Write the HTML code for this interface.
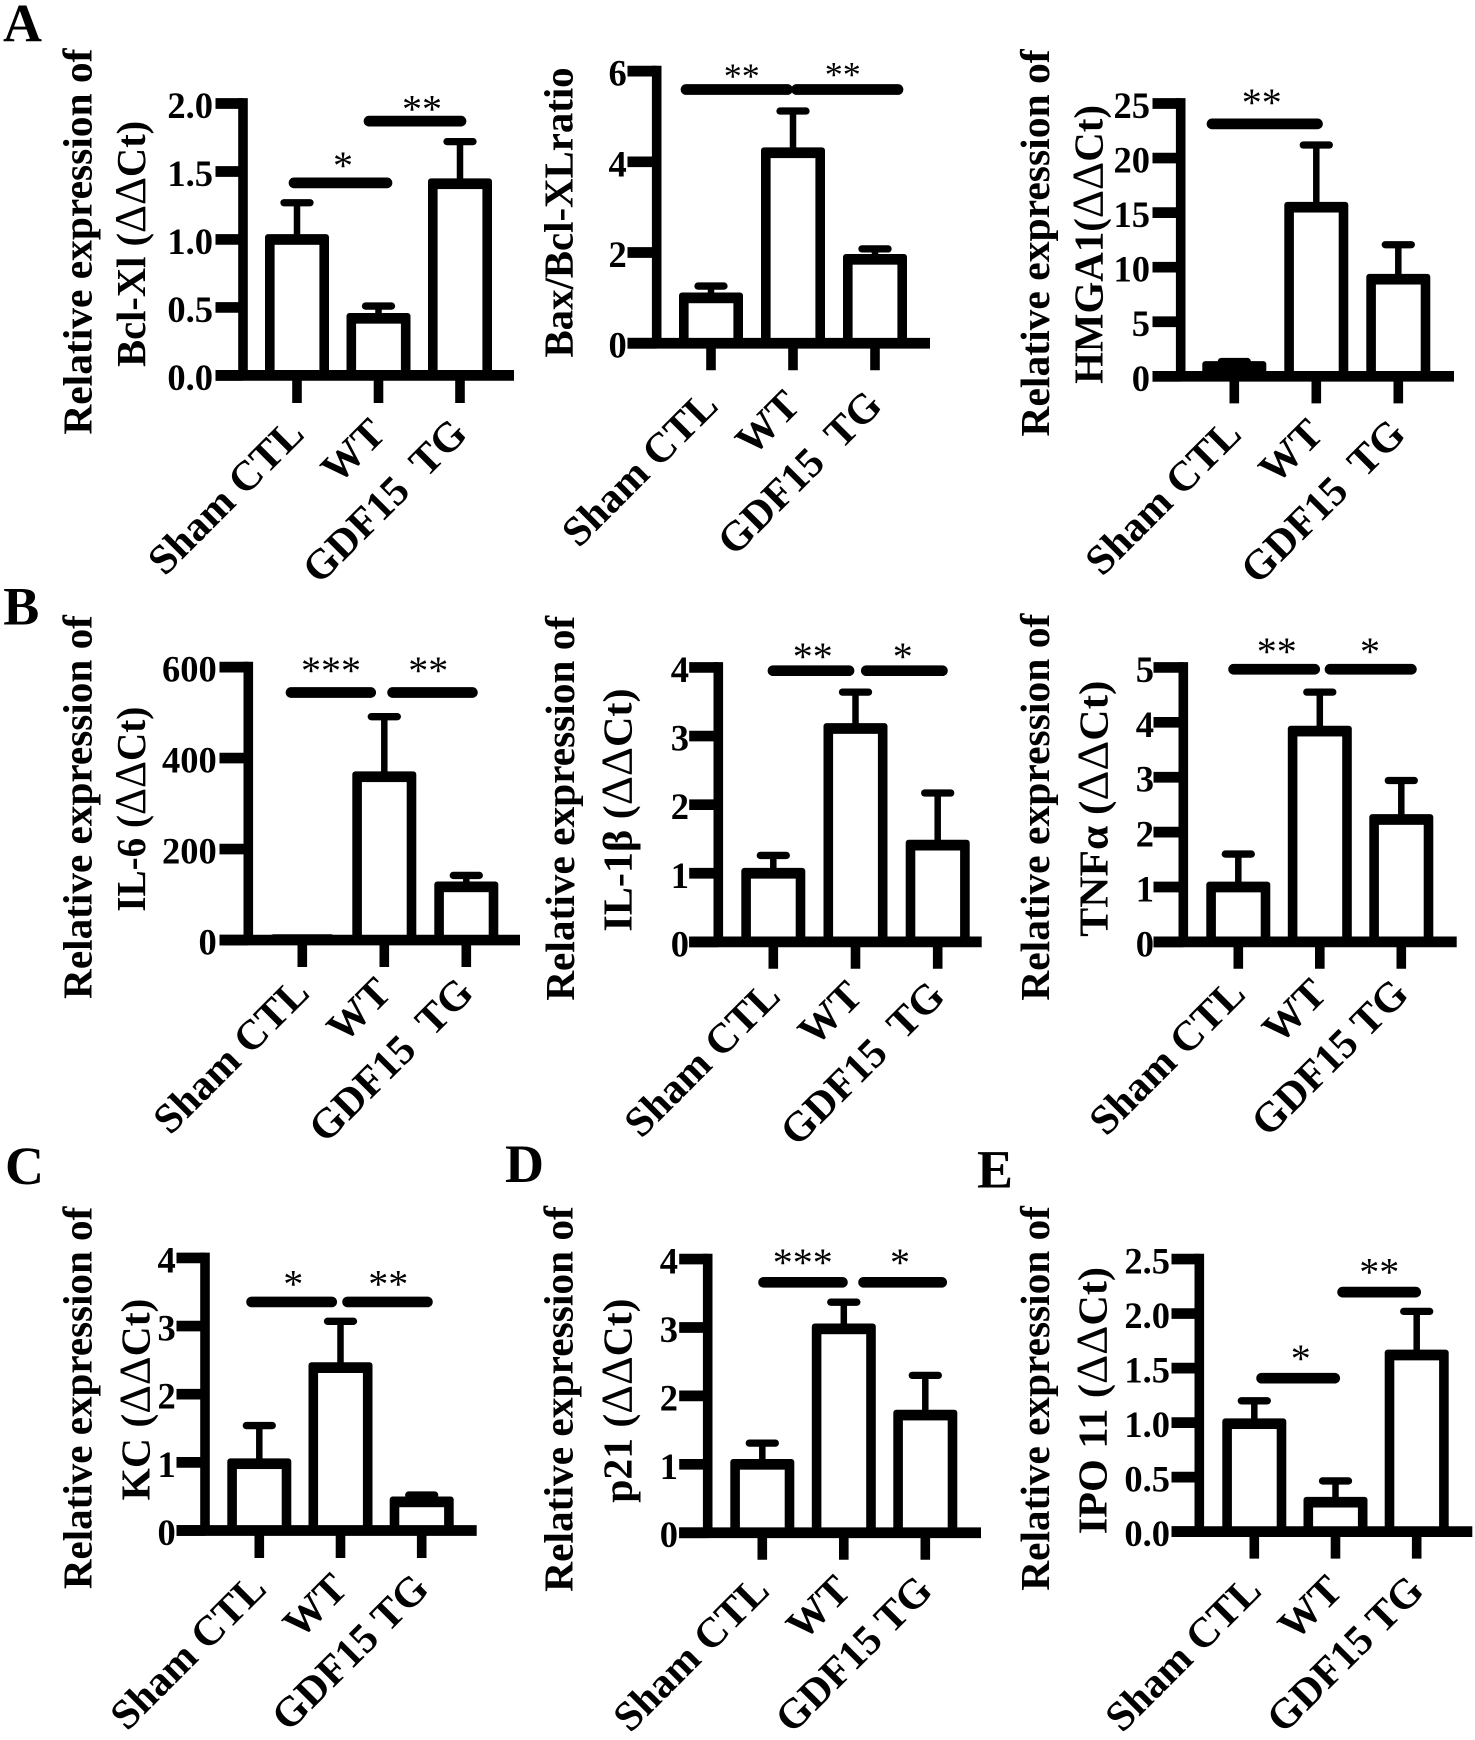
<!DOCTYPE html>
<html lang="en">
<head>
<meta charset="utf-8">
<title>Relative expression bar charts</title>
<style>
html,body{margin:0;padding:0;background:#fff;}
svg{display:block;}
text{font-family:"Liberation Serif","DejaVu Serif",serif;fill:#000;white-space:pre;}
</style>
</head>
<body>
<svg id="figure" xmlns="http://www.w3.org/2000/svg" width="1475" height="1740" viewBox="0 0 1475 1740">
<rect width="1475" height="1740" fill="#fff"/>
</svg>
<script>
// ---- categories ----
const catsWideGap = ['Sham CTL', 'WT', 'GDF15  TG'];
const catsNarrowGap = ['Sham CTL', 'WT', 'GDF15 TG'];

// ---- series values (bar mean, top of error bar) and axis ticks ----
const bclMeans = [1.0, 0.42, 1.41];
const bclErrTops = [1.27, 0.51, 1.72];
const bclTickValues = [0, 0.5, 1, 1.5, 2];
const bclTickLabels = ['0.0', '0.5', '1.0', '1.5', '2.0'];

const baxMeans = [1.0, 4.2, 1.85];
const baxErrTops = [1.26, 5.12, 2.08];
const baxTickValues = [0, 2, 4, 6];
const baxTickLabels = ['0', '2', '4', '6'];

const hmgaMeans = [0.9, 15.5, 8.9];
const hmgaErrTops = [1.35, 21.2, 12.06];
const hmgaTickValues = [0, 5, 10, 15, 20, 25];
const hmgaTickLabels = ['0', '5', '10', '15', '20', '25'];

const il6Means = [1, 359, 117];
const il6ErrTops = [1.3, 491, 142];
const il6TickValues = [0, 200, 400, 600];
const il6TickLabels = ['0', '200', '400', '600'];

const il1Means = [1.0, 3.11, 1.41];
const il1ErrTops = [1.26, 3.64, 2.17];
const il1TickValues = [0, 1, 2, 3, 4];
const il1TickLabels = ['0', '1', '2', '3', '4'];

const tnfMeans = [1.0, 3.84, 2.23];
const tnfErrTops = [1.6, 4.55, 2.94];
const tnfTickValues = [0, 1, 2, 3, 4, 5];
const tnfTickLabels = ['0', '1', '2', '3', '4', '5'];

const kcMeans = [0.98, 2.39, 0.42];
const kcErrTops = [1.54, 3.07, 0.52];
const kcTickValues = [0, 1, 2, 3, 4];
const kcTickLabels = ['0', '1', '2', '3', '4'];

const p21Means = [1.0, 2.98, 1.72];
const p21ErrTops = [1.31, 3.37, 2.3];
const p21TickValues = [0, 1, 2, 3, 4];
const p21TickLabels = ['0', '1', '2', '3', '4'];

const ipoMeans = [0.99, 0.27, 1.62];
const ipoErrTops = [1.2, 0.465, 2.02];
const ipoTickValues = [0, 0.5, 1, 1.5, 2, 2.5];
const ipoTickLabels = ['0.0', '0.5', '1.0', '1.5', '2.0', '2.5'];

// ---- panel letters ----
const panelLetters = ['A', 'B', 'C', 'D', 'E'];

// ---- vertical layout calibration for each row of panels ----
const rowOrigins = [0, 590, 1150];
const rowFactors = [1.129, 1.0905, 1.128];

// ---- panel layout (frame geometry and annotations, row-relative y) ----
const panels = [
 {id:'bcl-xl', row:0, cats:catsWideGap, means:bclMeans, errTops:bclErrTops, tickValues:bclTickValues, tickLabels:bclTickLabels,
  axisX:243, base:332.5, top:91.7, tickLeft:217, labelRight:213, right:514, x0:297, step:81.5, tickBottom:357, labelDy:29, starSize:40,
  titles:[{text:'Relative expression of', x:91.7, y:385, len:342},{text:'Bcl-Xl (ΔΔCt)', x:145, y:325, len:218}],
  sigs:[{x1:294,x2:387,y:162,stars:'*',sx:343,sy:142},{x1:369,x2:461,y:107.3,stars:'**',sx:422,sy:92}]},
 {id:'bax-ratio', row:0, cats:catsWideGap, means:baxMeans, errTops:baxErrTops, tickValues:baxTickValues, tickLabels:baxTickLabels,
  axisX:656.7, base:304, top:63, tickLeft:629, labelRight:626.7, right:930, x0:711, step:82, tickBottom:328, labelDy:33, starSize:36,
  titles:[{text:'Bax/Bcl-XLratio', x:572.7, y:316.7, len:257}],
  sigs:[{x1:686,x2:787.5,y:79.3,stars:'**',sx:741.7,sy:63},{x1:796.5,x2:898,y:79.3,stars:'**',sx:842.7,sy:61.7}]},
 {id:'hmga1', row:0, cats:catsWideGap, means:hmgaMeans, errTops:hmgaErrTops, tickValues:hmgaTickValues, tickLabels:hmgaTickLabels,
  axisX:1180.7, base:333.3, top:91.7, tickLeft:1154, labelRight:1150, right:1454, x0:1234.3, step:82, tickBottom:357.3, labelDy:29, starSize:40,
  titles:[{text:'Relative expression of', x:1049, y:386.7, len:343},{text:'HMGA1(ΔΔCt)', x:1102.7, y:340, len:247}],
  sigs:[{x1:1212,x2:1317.5,y:109.7,stars:'**',sx:1261.7,sy:86}]},
 {id:'il-6', row:1, cats:catsWideGap, means:il6Means, errTops:il6ErrTops, tickValues:il6TickValues, tickLabels:il6TickLabels,
  axisX:248.3, base:911, top:660.7, tickLeft:221, labelRight:216.7, right:520, x0:302.3, step:82, tickBottom:935.7, labelDy:25.5, starSize:40,
  titles:[{text:'Relative expression of', x:91.7, y:965, len:352},{text:'IL-6 (ΔΔCt)', x:145, y:885, len:188}],
  sigs:[{x1:291,x2:370.7,y:684,stars:'***',sx:331,sy:659},{x1:392.6,x2:472.4,y:684,stars:'**',sx:428.3,sy:659}]},
 {id:'il-1b', row:1, cats:catsWideGap, means:il1Means, errTops:il1ErrTops, tickValues:il1TickValues, tickLabels:il1TickLabels,
  axisX:718.3, base:912.7, top:661, tickLeft:690.7, labelRight:689, right:981.7, x0:773.3, step:82.2, tickBottom:937.3, labelDy:27, starSize:40,
  titles:[{text:'Relative expression of', x:574, y:966.7, len:353},{text:'IL-1β (ΔΔCt)', x:631.7, y:903.3, len:223}],
  sigs:[{x1:773,x2:849,y:664,stars:'**',sx:812.7,sy:646},{x1:866.3,x2:942.4,y:664,stars:'*',sx:902.7,sy:646}]},
 {id:'tnf-a', row:1, cats:catsNarrowGap, means:tnfMeans, errTops:tnfErrTops, tickValues:tnfTickValues, tickLabels:tnfTickLabels,
  axisX:1183.3, base:912.7, top:661, tickLeft:1155, labelRight:1154, right:1456.7, x0:1238.3, step:81.5, tickBottom:937.3, labelDy:25, starSize:40,
  titles:[{text:'Relative expression of', x:1049, y:966.7, len:355},{text:'TNFα (ΔΔCt)', x:1107.3, y:908, len:235}],
  sigs:[{x1:1233.6,x2:1314.7,y:662.7,stars:'**',sx:1276.7,sy:641.7},{x1:1330,x2:1411.4,y:662.7,stars:'*',sx:1370,sy:641.7}]},
 {id:'kc', row:2, cats:catsNarrowGap, means:kcMeans, errTops:kcErrTops, tickValues:kcTickValues, tickLabels:kcTickLabels,
  axisX:205, base:1487.3, top:1245.7, tickLeft:178, labelRight:175.7, right:476.7, x0:259.3, step:81.2, tickBottom:1511.7, labelDy:29, starSize:40,
  titles:[{text:'Relative expression of', x:91.7, y:1539.3, len:339},{text:'KC (ΔΔCt)', x:149.3, y:1460.7, len:179}],
  sigs:[{x1:251.6,x2:331.7,y:1284.7,stars:'*',sx:293.3,sy:1264.3},{x1:347.6,x2:427.4,y:1284.7,stars:'**',sx:388.3,sy:1264.3}]},
 {id:'p21', row:2, cats:catsNarrowGap, means:p21Means, errTops:p21ErrTops, tickValues:p21TickValues, tickLabels:p21TickLabels,
  axisX:707.7, base:1489.3, top:1246.7, tickLeft:680.7, labelRight:678, right:981, x0:762.3, step:81.5, tickBottom:1513.3, labelDy:29, starSize:40,
  titles:[{text:'Relative expression of', x:572.7, y:1541.7, len:342},{text:'p21 (ΔΔCt)', x:631.7, y:1462.7, len:181}],
  sigs:[{x1:763.6,x2:842.4,y:1267.3,stars:'***',sx:802.7,sy:1245},{x1:863.6,x2:941.7,y:1267.3,stars:'*',sx:900,sy:1245}]},
 {id:'ipo-11', row:2, cats:catsNarrowGap, means:ipoMeans, errTops:ipoErrTops, tickValues:ipoTickValues, tickLabels:ipoTickLabels,
  axisX:1199.3, base:1488.3, top:1246.7, tickLeft:1173, labelRight:1170, right:1472.3, x0:1254.3, step:81.2, tickBottom:1512.3, labelDy:30, starSize:40,
  titles:[{text:'Relative expression of', x:1049, y:1540.7, len:341},{text:'IPO 11 (ΔΔCt)', x:1106.7, y:1490.7, len:237}],
  sigs:[{x1:1261.6,x2:1334.7,y:1352.3,stars:'*',sx:1300.7,sy:1330},{x1:1342.6,x2:1415.7,y:1276,stars:'**',sx:1379.3,sy:1253.3}]}
];
const letterSpots = [{x:3,y:41.6},{x:3.3,y:624.6},{x:5,y:1184},{x:505,y:1182},{x:977,y:1187.5}];

// ---- style constants ----
const STROKE_H = 10.7;   // thickness of horizontal strokes
const STROKE_V = 9.6;    // thickness of vertical strokes
const BAR_OUTER_HALF = 32;
const CAP_HALF = 13;
const TITLE_SIZE = 41.5;
const TICK_SIZE = 36.5;
const CAT_SIZE = 42;

const NS = 'http://www.w3.org/2000/svg';
const root = document.getElementById('figure');

function make(parent, tag, attrs, content) {
  const node = document.createElementNS(NS, tag);
  for (const k in attrs) node.setAttribute(k, attrs[k]);
  if (content !== undefined) node.textContent = content;
  parent.appendChild(node);
  return node;
}

function drawPanel(p) {
  const g = make(root, 'g', {});
  
  

  const origin = rowOrigins[p.row];
  const factor = rowFactors[p.row];
  const rowY = y => origin + (y - origin) * factor;
  const base = rowY(p.base);
  const top = rowY(p.top);
  const tickBottom = rowY(p.tickBottom);

  const maxTick = Math.max.apply(null, p.tickValues);
  const yScale = v => base - (v / maxTick) * (base - top);
  const xScale = i => p.x0 + i * p.step;

  // y-axis titles (the delta signs are set in regular weight)
  p.titles.forEach((t, i) => {
    const title = make(g, 'text', {
      transform: 'translate(' + t.x + ',' + rowY(t.y) + ') rotate(-90)',
      'font-size': TITLE_SIZE, 'font-weight': 'bold',
      textLength: t.len * factor, lengthAdjust: 'spacingAndGlyphs'
    });
    
    
    t.text.split(/(Δ+)/).forEach(part => {
      if (part.charAt(0) === 'Δ') {
        const delta = make(title, 'tspan', {'font-weight':'normal', 'font-size':TITLE_SIZE + 3}, part);
        
        
      } else if (part) {
        title.appendChild(document.createTextNode(part));
      }
    });
  });

  // significance bars and stars
  p.sigs.forEach(s => {
    const sy = rowY(s.y);
    const sig = make(g, 'line', {x1:s.x1, x2:s.x2, y1:sy, y2:sy, stroke:'#000', 'stroke-width':STROKE_H, 'stroke-linecap':'round'});
    
    
    const star = make(g, 'text', {
      x:s.sx, y:rowY(s.sy) + 0.47 * p.starSize, 'font-size':p.starSize, 'text-anchor':'middle'
    }, s.stars);
    
    
  });

  // bars and error bars
  p.means.forEach((m, i) => {
    const cx = xScale(i);
    const errY = yScale(p.errTops[i]);
    const barY = yScale(m);
    const stem = make(g, 'line', {x1:cx, x2:cx, y1:errY, y2:barY, stroke:'#000', 'stroke-width':6.5});
    
    
    const cap = make(g, 'line', {x1:cx - CAP_HALF, x2:cx + CAP_HALF, y1:errY, y2:errY, stroke:'#000', 'stroke-width':7.3, 'stroke-linecap':'round'});
    
    
    const bar = make(g, 'rect', {
      x:cx - BAR_OUTER_HALF, y:barY - STROKE_H / 2, width:BAR_OUTER_HALF * 2,
      height:Math.max(0, base - barY + STROKE_H / 2), rx:3, fill:'#000'
    });
    
    
    const inner = make(g, 'rect', {
      x:cx - BAR_OUTER_HALF + STROKE_V, y:barY + STROKE_H / 2, width:(BAR_OUTER_HALF - STROKE_V) * 2,
      height:Math.max(0, base - barY - STROKE_H / 2), fill:'#fff'
    });
    
    
  });

  // y axis line, ticks, tick labels
  const yAxis = make(g, 'line', {x1:p.axisX, x2:p.axisX, y1:yScale(maxTick) - STROKE_H / 2, y2:base, stroke:'#000', 'stroke-width':STROKE_V});
  
  
  p.tickValues.forEach((v, i) => {
    const y = yScale(v);
    const tick = make(g, 'line', {x1:p.tickLeft - 1.5, x2:p.axisX, y1:y, y2:y, stroke:'#000', 'stroke-width':STROKE_H});
    
    
    const lab = make(g, 'text', {
      x:p.labelRight, y:y + 14.5,
      'font-size':TICK_SIZE, 'font-weight':'bold', 'text-anchor':'end'
    }, p.tickLabels[i]);
    
    
  });

  // x axis line, ticks, category labels
  const xAxis = make(g, 'line', {x1:p.tickLeft - 1.5, x2:p.right, y1:base, y2:base, stroke:'#000', 'stroke-width':STROKE_H});
  
  
  p.cats.forEach((c, i) => {
    const cx = xScale(i);
    const tick = make(g, 'line', {x1:cx, x2:cx, y1:base, y2:tickBottom, stroke:'#000', 'stroke-width':STROKE_V});
    
    
    const lab = make(g, 'text', {
      transform:'translate(' + (cx + 9) + ',' + (tickBottom + p.labelDy * factor) + ') rotate(-45)',
      'font-size':CAT_SIZE, 'font-weight':'bold', 'text-anchor':'end'
    }, c);
    
    
  });
}

panels.forEach(drawPanel);

panelLetters.forEach((letter, i) => {
  const t = make(root, 'text', {
    x:letterSpots[i].x, y:letterSpots[i].y,
    'font-size':54, 'font-weight':'bold'
  }, letter);
  
  
});
</script>
</body>
</html>
